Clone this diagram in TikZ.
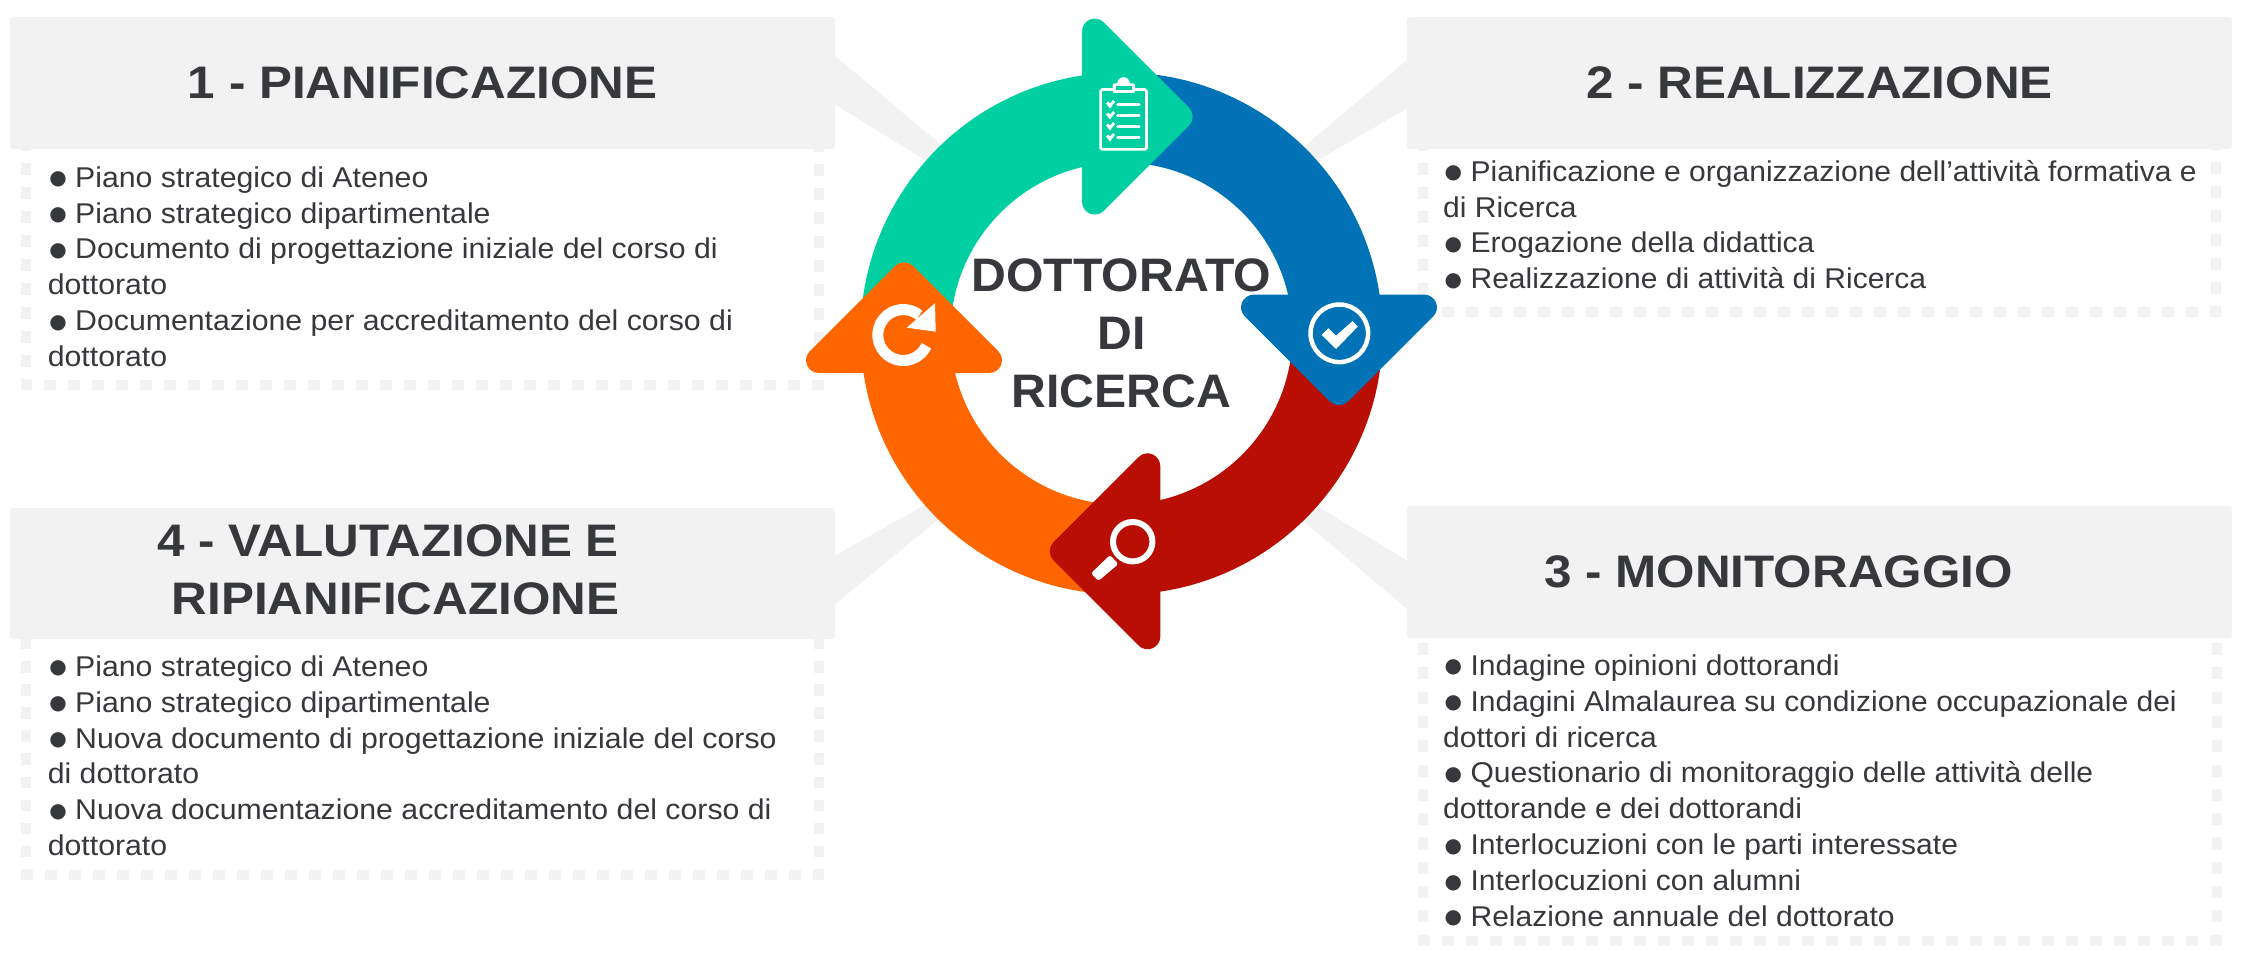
\documentclass[tikz,border=0pt]{standalone}
\usepackage{fontspec}
\setmainfont{Liberation Sans}[FakeStretch=1.05]
\newfontfamily\leftfont{Liberation Sans}[FakeStretch=1.058]
\newfontfamily\headfont{Liberation Sans}[FakeStretch=1.083]
\newfontfamily\centrefont{Liberation Sans}[FakeStretch=1.025]
\newfontfamily\symfont{DejaVu Sans}
\definecolor{ink}{HTML}{36383B}
\definecolor{pale}{HTML}{F2F2F2}
\definecolor{cgreen}{HTML}{00CFA2}
\definecolor{cblue}{HTML}{0072B5}
\definecolor{cred}{HTML}{B90E03}
\definecolor{corange}{HTML}{FF6600}
\newcommand{\bul}{\rule{0pt}{24pt}\makebox[27.4pt][l]{\kern1.5pt\raisebox{2.6pt}[0pt][0pt]{\symfont\fontsize{20}{36}\selectfont ●}}}
\tikzset{
 header/.style={fill=pale,rounded corners=3pt,inner sep=0pt,minimum width=825pt,text=ink,align=center,
   font=\fontsize{45.6}{58}\selectfont\headfont\bfseries},
 titletext/.style={text=ink,inner sep=0pt,align=center,font=\fontsize{45.6}{58}\selectfont\headfont\bfseries},
 body/.style={text=ink,inner sep=0pt,anchor=north west,align=left,font=\fontsize{28.6}{35.9}\selectfont},
 leftbody/.style={body,font=\fontsize{28.6}{35.9}\selectfont\leftfont},
 dotbox/.style={draw=pale,line width=10pt,dash pattern=on 12pt off 12pt},
 wedge/.style={fill=pale},
 centre/.style={text=ink,inner sep=0pt,align=center,font=\fontsize{47}{58}\selectfont\centrefont\bfseries},
 icon/.style={fill=white},
 iconline/.style={draw=white}
}
\newcommand{\ringsector}[3]{\fill[#1] (1121.5,333.5)++(#2:261) arc[start angle=#2,end angle=#3,radius=261] -- ++(#3+180:90) arc[start angle=#3,end angle=#2,radius=171] -- cycle;}
\newcommand{\headarrow}[4]{\begin{scope}[shift={(#2,#3)},rotate=#4]
\fill[#1] (0,-85) .. controls (0,-96.6) and (13.7,-102.3) .. (21.9,-94.1) -- (106.8,-9.2)
  .. controls (111.9,-4.1) and (111.9,4.1) .. (106.8,9.2) -- (21.9,94.1)
  .. controls (13.7,102.3) and (0,96.6) .. (0,85) -- cycle;
\end{scope}}
\begin{document}
\begin{tikzpicture}[x=1pt,y=1pt,yscale=-1]
\useasboundingbox (0,0) rectangle (2243,965);
% dotted frames
\draw[dotbox] (26,139)--(26,385)--(819,385)--(819,139);
\draw[dotbox] (1423,139)--(1423,312)--(2216,312)--(2216,139);
\draw[dotbox,dash pattern=on 11.55pt off 11.55pt] (26,637.9)--(26,880);
\draw[dotbox,dash pattern=on 11.55pt off 11.55pt] (819,637.9)--(819,880);
\draw[dotbox] (21,875)--(824,875);
\draw[dotbox,dash pattern=on 12.15pt off 12.15pt] (1423,618.7)--(1423,946);
\draw[dotbox,dash pattern=on 12.15pt off 12.15pt] (2216.5,618.7)--(2216.5,946);
\draw[dotbox] (1418,940.5)--(2221.5,940.5);
% wedges
\fill[wedge] (834,55)--(945,148)--(925,160)--(834,104)--cycle;
\fill[wedge] (1408,59)--(1300,150)--(1318,160)--(1408,108)--cycle;
\fill[wedge] (834,556)--(925,505)--(940,518)--(834,605)--cycle;
\fill[wedge] (1408,561)--(1315,505)--(1300,518)--(1408,610)--cycle;
% headers
\node[header,minimum height=132pt] (h1) at (422.5,83) {1 - PIANIFICAZIONE};
\node[header,minimum height=132pt] (h2) at (1819.5,83) {2 - REALIZZAZIONE};
\node[header,minimum height=132pt] (h3) at (1819.5,572) {\raisebox{-1.5pt}{3 - MONITORAGGIO}\hspace*{82pt}};
\node[header,minimum height=131pt] (h4) at (422.5,573.5) {};
\node[titletext] (t4) at (422.5,569.5) {4 - VALUTAZIONE E\hspace*{69pt}\\RIPIANIFICAZIONE\hspace*{54pt}};
% bodies
\node[leftbody] (b1) at (47.6,163) {\bul Piano strategico di Ateneo\\
\bul Piano strategico dipartimentale\\
\bul Documento di progettazione iniziale del corso di\\
dottorato\\
\bul Documentazione per accreditamento del corso di\\
dottorato};
\node[body] (b2) at (1443,157) {\bul Pianificazione e organizzazione dell’attività formativa e\\
di Ricerca\\
\bul Erogazione della didattica\\
\bul Realizzazione di attività di Ricerca};
\node[body] (b3) at (1443,651) {\bul Indagine opinioni dottorandi\\
\bul Indagini Almalaurea su condizione occupazionale dei\\
dottori di ricerca\\
\bul Questionario di monitoraggio delle attività delle\\
dottorande e dei dottorandi\\
\bul Interlocuzioni con le parti interessate\\
\bul Interlocuzioni con alumni\\
\bul Relazione annuale del dottorato};
\node[leftbody] (b4) at (47.6,652) {\bul Piano strategico di Ateneo\\
\bul Piano strategico dipartimentale\\
\bul Nuova documento di progettazione iniziale del corso\\
di dottorato\\
\bul Nuova documentazione accreditamento del corso di\\
dottorato};
% ring
\ringsector{cgreen}{180}{265}
\ringsector{cblue}{270}{355}
\ringsector{cred}{0}{85}
\ringsector{corange}{90}{175}
% arrowheads
\headarrow{cgreen}{1082}{116.6}{0}
\headarrow{cblue}{1339}{294.6}{90}
\headarrow{cred}{1160.3}{551.3}{180}
\headarrow{corange}{904}{373}{270}
% clipboard icon
\draw[iconline,line width=2.7pt,rounded corners=1.5pt] (1100.6,89.6) rectangle (1146.4,149.4);
\fill[icon] (1123.5,83.5) circle (6.3);
\fill[icon,rounded corners=2pt] (1112.7,83.5) rectangle (1135,93);
\fill[cgreen] (1115.5,86.3) rectangle (1132.2,90);
\foreach \yy in {104.5,115.5,126.5,137.5}{
 \draw[iconline,line width=3.3pt,line cap=round] (1117.7,\yy)--(1139,\yy);
 \fill[icon] (1106,\yy-1)--(1108.2,\yy-3)--(1110,\yy-1)--(1113,\yy-4.5)--(1115,\yy-2.5)--(1110,\yy+4)--cycle;
}
% check icon
\draw[iconline,line width=4.5pt] (1339.3,333.3) circle (28.8);
\fill[icon] (1321.7,335)--(1328.3,328.3)--(1336,335.7)--(1352.7,321)--(1357.7,326.7)--(1336,349)--cycle;
% search icon
\draw[iconline,line width=6pt] (1132.7,541.7) circle (19.7);
\fill[icon,rounded corners=2.5pt] (1091,573.3)--(1110,555)--(1118.4,564)--(1098.4,581)--cycle;
% reload icon
\draw[iconline,line width=11pt] (903.3,335)++(-51:25.5) arc[start angle=-51,end angle=-335,radius=25.5];
\fill[icon] (935,303.3)--(935.7,331.7)--(906.7,327.7)--cycle;
% centre
\node[centre] (c) at (1121.5,333.5) {DOTTORATO\\DI\\RICERCA};
\end{tikzpicture}
\end{document}
